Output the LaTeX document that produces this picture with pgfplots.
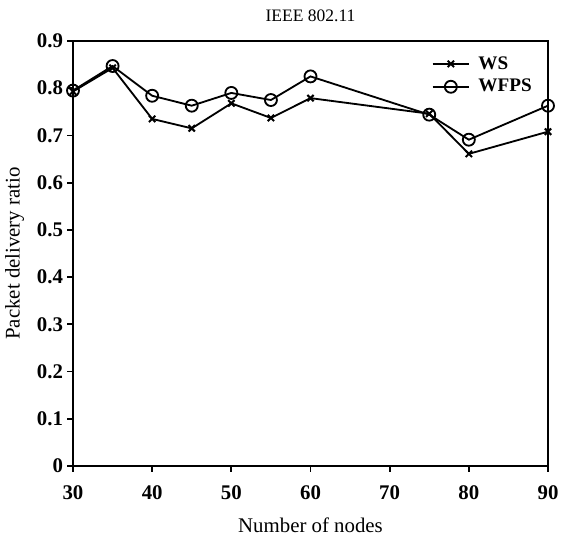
\documentclass[border=0pt]{standalone}
\usepackage{fontspec}
\setmainfont{Liberation Serif}
\usepackage{pgfplots}
\pgfplotsset{compat=1.18}

\begin{document}
\begin{tikzpicture}
\begin{axis}[
  scale only axis,
  width=285pt, height=255pt,
  xmin=30, xmax=90, ymin=0, ymax=0.9,
  xtick={30,40,...,90},
  ytick={0,0.1,...,0.9},
  yticklabels={0,0.1,0.2,0.3,0.4,0.5,0.6,0.7,0.8,0.9},
  tick align=outside,
  tick pos=left,
  major tick length=3.5pt,
  tick style={line width=1.1pt, black},
  axis line style={line width=1.2pt},
  every axis plot/.append style={line width=1.1pt},
  /pgf/number format/assume math mode=true,
  tick label style={font=\fontsize{12.5}{14}\selectfont\bfseries},
  yticklabel style={xshift=1pt},
  xticklabel style={yshift=-5pt},
  xlabel={Number of nodes},
  ylabel={Packet delivery ratio},
  every axis x label/.style={at={(rel axis cs:0.5,0)}, anchor=base, yshift=-40pt,
    font=\fontsize{12.5}{14}\selectfont},
  every axis y label/.style={at={(rel axis cs:0,0.5)}, anchor=center, xshift=-35pt, rotate=90,
    font=\fontsize{12.5}{14}\selectfont},
  title={IEEE 802.11},
  every axis title/.style={at={(rel axis cs:0.5,1)}, anchor=base, yshift=11.4pt,
    font=\fontsize{10.5}{12}\selectfont},
  legend style={draw=none, fill=none, inner sep=0pt, at={(rel axis cs:1,1)},
    xshift=-9.6pt, yshift=-9pt, anchor=north east,
    font=\fontsize{11.5}{13}\selectfont\bfseries, row sep=4.6pt,
    nodes={inner sep=0pt}},
  legend cell align=left,
  /tikz/every odd column/.append style={column sep=5pt},
  legend image code/.code={
    \draw[#1] (0pt,0pt) -- (22pt,0pt);
    \draw[#1, only marks] plot coordinates {(11pt,0pt)};
  },
]
\coordinate (ll) at (rel axis cs:0,0);
\coordinate (ur) at (rel axis cs:1,1);
\addplot[black, mark=x, mark size=2.7pt, mark options={line width=1.2pt}]
coordinates {(30,0.793) (35,0.843) (40,0.735) (45,0.715) (50,0.768) (55,0.737) (60,0.779) (75,0.746) (80,0.661) (90,0.708)};
\addlegendentry{WS}
\addplot[black, mark=o, mark size=3.6pt, mark options={line width=1.1pt}]
coordinates {(30,0.795) (35,0.847) (40,0.784) (45,0.763) (50,0.790) (55,0.775) (60,0.825) (75,0.744) (80,0.691) (90,0.763)};
\addlegendentry{WFPS}
\end{axis}
\pgfresetboundingbox
\path ([shift={(-43.8pt,-45pt)}]ll) rectangle ([shift={(7.8pt,24.6pt)}]ur);
\end{tikzpicture}
\end{document}
